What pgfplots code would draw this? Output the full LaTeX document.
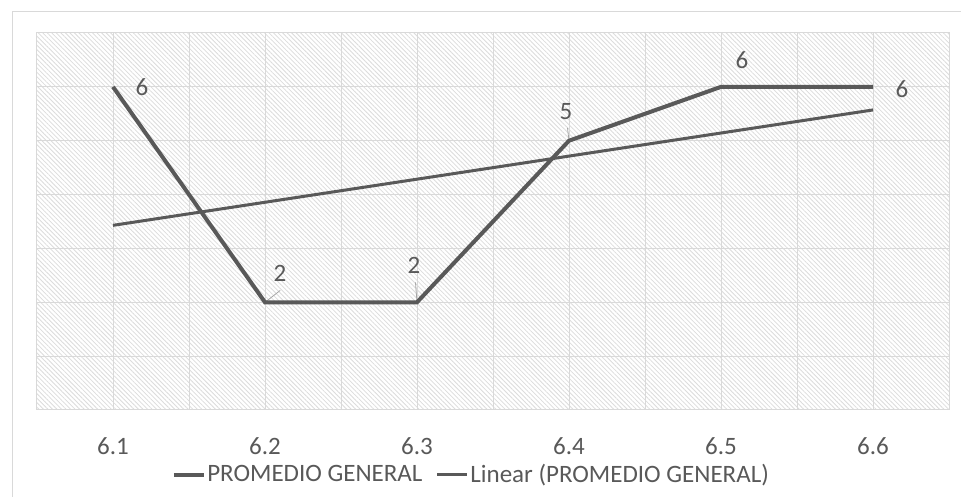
\documentclass[border=0pt]{standalone}
\usepackage{fontspec}
\setmainfont{Carlito}
\usepackage{pgfplots}
\pgfplotsset{compat=1.18}
\usepackage{pgfplotstable}
\usetikzlibrary{patterns.meta}
\definecolor{txt}{HTML}{595959}
\definecolor{ln}{HTML}{595959}
\definecolor{grd}{HTML}{D9D9D9}
\definecolor{hatch}{HTML}{DCDCDC}

\pgfplotstableread{
x y dx dy
0 6 29 0
1 2 15 29
2 2 -3 37
3 5 -3 29
4 6 21 27
5 6 29 -2
}\data

\begin{document}
\fontsize{25bp}{30bp}\selectfont
\begin{tikzpicture}
\useasboundingbox (0,0) rectangle (961bp,497bp);
\fill[white] (0,0) rectangle (961bp,497bp);
\draw[grd, line width=1bp] (12bp,0) -- (12bp,485bp) -- (961bp,485bp);
\begin{axis}[
  at={(37bp,87bp)}, anchor=south west,
  scale only axis, width=912bp, height=377bp,
  xmin=-0.5, xmax=5.5, ymin=0, ymax=7,
  xtick={0,...,5}, xticklabels={6.1,6.2,6.3,6.4,6.5,6.6},
  minor xtick={-0.5,0.5,...,5.5},
  ytick={0,...,7}, yticklabels={},
  xmajorgrids, xminorgrids, ymajorgrids,
  grid style={grd, line width=1bp},
  minor grid style={grd, line width=1bp},
  major tick length=0pt, minor tick length=0pt,
  axis line style={grd, line width=1bp},
  axis background/.style={pattern={Lines[angle=-45,distance=3.2bp,line width=0.8bp]}, pattern color=hatch},
  xticklabel style={text=txt, anchor=center, yshift=-36bp},
  /pgf/number format/assume math mode=true,
  clip=false,
  legend style={at={(0.476,-0.172)}, anchor=center, draw=none, fill=none,
    legend columns=-1, text=txt, inner sep=0pt,
    /tikz/every even column/.append style={column sep=12bp},
    nodes={inner sep=1.5bp}},
  legend image code/.code={\draw[#1] (0bp,0bp) -- (30bp,0bp);},
]
\addplot[gray!70, line width=0.8bp, forget plot] coordinates {(1,2) (1.1,2.22)};
\addplot[gray!70, line width=0.8bp, forget plot] coordinates {(2,2) (1.99,2.37)};
\addplot[gray!70, line width=0.8bp, forget plot] coordinates {(3,5) (2.99,5.24)};
\addplot[ln, line width=4bp, mark=none,
  nodes near coords, point meta=y,
  visualization depends on={\thisrow{dx} \as \dx},
  visualization depends on={\thisrow{dy} \as \dy},
  every node near coord/.append style={anchor=center, xshift=\dx bp, yshift=\dy bp, text=txt, inner sep=0pt}
] table[x=x,y=y] {\data};
\addlegendentry{PROMEDIO GENERAL}
\addplot[ln, line width=3bp, mark=none] coordinates {(0,3.4286) (5,5.5714)};
\addlegendentry{Linear (PROMEDIO GENERAL)}
\end{axis}
\end{tikzpicture}
\end{document}
